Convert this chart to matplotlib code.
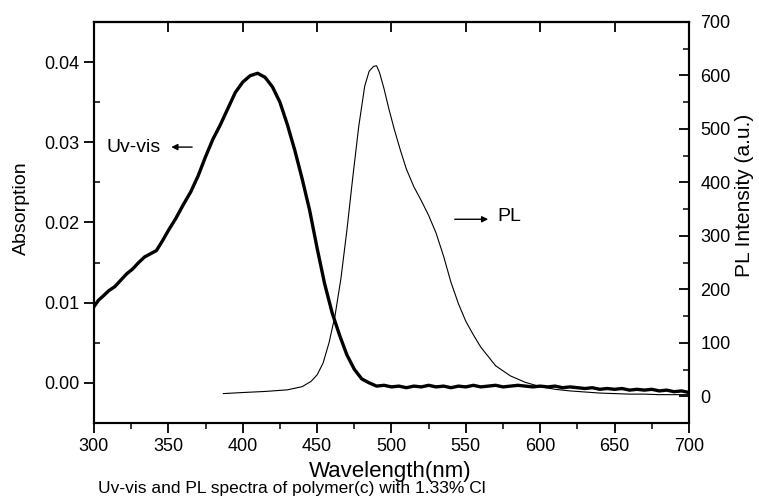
import numpy as np
import matplotlib.pyplot as plt
from matplotlib.ticker import MultipleLocator, FormatStrFormatter

plt.rcParams['font.family'] = ['Liberation Sans', 'DejaVu Sans']

# ---- UV-vis absorption (left axis) ----
uv_wl = [300, 303, 306, 310, 314, 318, 322, 326, 330, 334, 338, 342, 346, 350,
         355, 360, 365, 370, 375, 380, 385, 390, 395, 400, 405, 410, 415, 420,
         425, 430, 435, 440, 445, 450, 455, 460, 465, 470, 475, 480, 485, 490,
         495, 500, 505, 510, 515, 520, 525, 530, 535, 540, 545, 550, 555, 560,
         565, 570, 575, 580, 585, 590, 595, 600, 605, 610, 615, 620, 625, 630,
         635, 640, 645, 650, 655, 660, 665, 670, 675, 680, 685, 690, 695, 700]
uv_abs = [0.0095, 0.0103, 0.0108, 0.0115, 0.0120, 0.0128, 0.0136, 0.0142,
          0.0150, 0.0157, 0.0161, 0.0165, 0.0177, 0.0190, 0.0205, 0.0222,
          0.0238, 0.0258, 0.0282, 0.0304, 0.0322, 0.0342, 0.0362, 0.0375,
          0.0383, 0.0386, 0.0381, 0.0369, 0.0350, 0.0322, 0.0290, 0.0254,
          0.0215, 0.0168, 0.0124, 0.0088, 0.0060, 0.0035, 0.0017, 0.0005,
          0.0000, -0.0004,
          -0.0003, -0.0005, -0.0004, -0.0006, -0.0004, -0.0005, -0.0003,
          -0.0005, -0.0004, -0.0006, -0.0004, -0.0005, -0.0003, -0.0005,
          -0.0004, -0.0003, -0.0005, -0.0004, -0.0003, -0.0004, -0.0005,
          -0.0004, -0.0005, -0.0004, -0.0006, -0.0005, -0.0006, -0.0007,
          -0.0006, -0.0008, -0.0007, -0.0008, -0.0007, -0.0009, -0.0008,
          -0.0009, -0.0008, -0.0010, -0.0009, -0.0011, -0.0010, -0.0012]

# ---- PL emission (right axis) ----
pl_wl = [387, 400, 415, 430, 440, 446, 450, 454, 458, 462, 466, 470, 474, 478,
         482, 485, 488, 490, 492, 495, 498, 502, 506, 510, 515, 520, 525, 530,
         535, 540, 545, 550, 555, 560, 570, 580, 590, 600, 610, 620, 630, 640,
         650, 660, 670, 680, 690, 700]
pl_int = [5, 7, 9, 12, 18, 28, 40, 62, 100, 150, 220, 310, 410, 505,
          580, 608, 617, 618, 605, 575, 540, 498, 460, 425, 392, 366, 338, 305,
          262, 213, 173, 140, 115, 92, 57, 38, 26, 18, 13, 10, 8, 6,
          5, 4, 4, 3, 3, 3]

x_ticks = [300, 350, 400, 450, 500, 550, 600, 650, 700]
abs_ticks = [0.00, 0.01, 0.02, 0.03, 0.04]
pl_ticks = [0, 100, 200, 300, 400, 500, 600, 700]

fig = plt.figure(figsize=(7.59, 4.99), dpi=100)
ax = fig.add_axes([0.1238, 0.1523, 0.784, 0.8037])
ax2 = ax.twinx()

ax.plot(uv_wl, uv_abs, color='black', lw=2.4, solid_joinstyle='round')
ax2.plot(pl_wl, pl_int, color='black', lw=0.8)

ax.set_xlim(300, 700)
ax.set_ylim(-0.005, 0.045)
ax2.set_ylim(-50, 700)

ax.set_xticks(x_ticks)
ax.set_yticks(abs_ticks)
ax.yaxis.set_major_formatter(FormatStrFormatter('%.2f'))
ax.xaxis.set_minor_locator(MultipleLocator(25))
ax.yaxis.set_minor_locator(MultipleLocator(0.005))
ax2.set_yticks(pl_ticks)
ax2.yaxis.set_minor_locator(MultipleLocator(50))

for sp in list(ax.spines.values()) + list(ax2.spines.values()):
    sp.set_linewidth(1.5)

ax.tick_params(axis='x', which='major', direction='out', length=7, width=1.3,
               labelsize=13, pad=4)
ax.tick_params(axis='x', which='minor', direction='out', length=4, width=1.1)
ax.tick_params(axis='y', which='major', direction='out', length=7, width=1.3,
               labelsize=13)
ax.tick_params(axis='y', which='minor', direction='in', length=4, width=1.1)
ax2.tick_params(axis='y', which='major', direction='in', length=7, width=1.3,
                labelsize=13, pad=8)
ax2.tick_params(axis='y', which='minor', direction='in', length=4, width=1.1)

# top ticks pointing inward, majors only
sec = ax.secondary_xaxis('top')
sec.set_xticks(x_ticks)
sec.tick_params(direction='in', length=7, width=1.3, labeltop=False)
sec.spines['top'].set_linewidth(1.5)
ax.tick_params(axis='x', which='both', top=False)

# annotations
ax.text(308.5, 0.0294, 'Uv-vis', fontsize=14, va='center', ha='left')
ax.annotate('', xy=(352, 0.0294), xytext=(366, 0.0294),
            arrowprops=dict(arrowstyle='-|>', lw=1.0, color='black',
                            mutation_scale=9, shrinkA=0, shrinkB=0))
ax.text(571.5, 0.0207, 'PL', fontsize=14, va='center', ha='left')
ax.annotate('', xy=(565, 0.0204), xytext=(542.5, 0.0204),
            arrowprops=dict(arrowstyle='-|>', lw=1.0, color='black',
                            mutation_scale=9, shrinkA=0, shrinkB=0))

# axis labels and caption
fig.text(21 / 759, 1 - 208 / 499, 'Absorption', rotation=90, fontsize=14,
         ha='center', va='center')
fig.text(745 / 759, 1 - 195 / 499, 'PL Intensity (a.u.)', rotation=90,
         fontsize=15, ha='center', va='center')
fig.text(390 / 759, 1 - 471 / 499, 'Wavelength(nm)', fontsize=16,
         ha='center', va='center')
fig.text(292 / 759, 1 - 489 / 499, 'Uv-vis and PL spectra of polymer(c) with 1.33% Cl',
         fontsize=12.5, ha='center', va='center')

plt.savefig('out.png', dpi=100)
